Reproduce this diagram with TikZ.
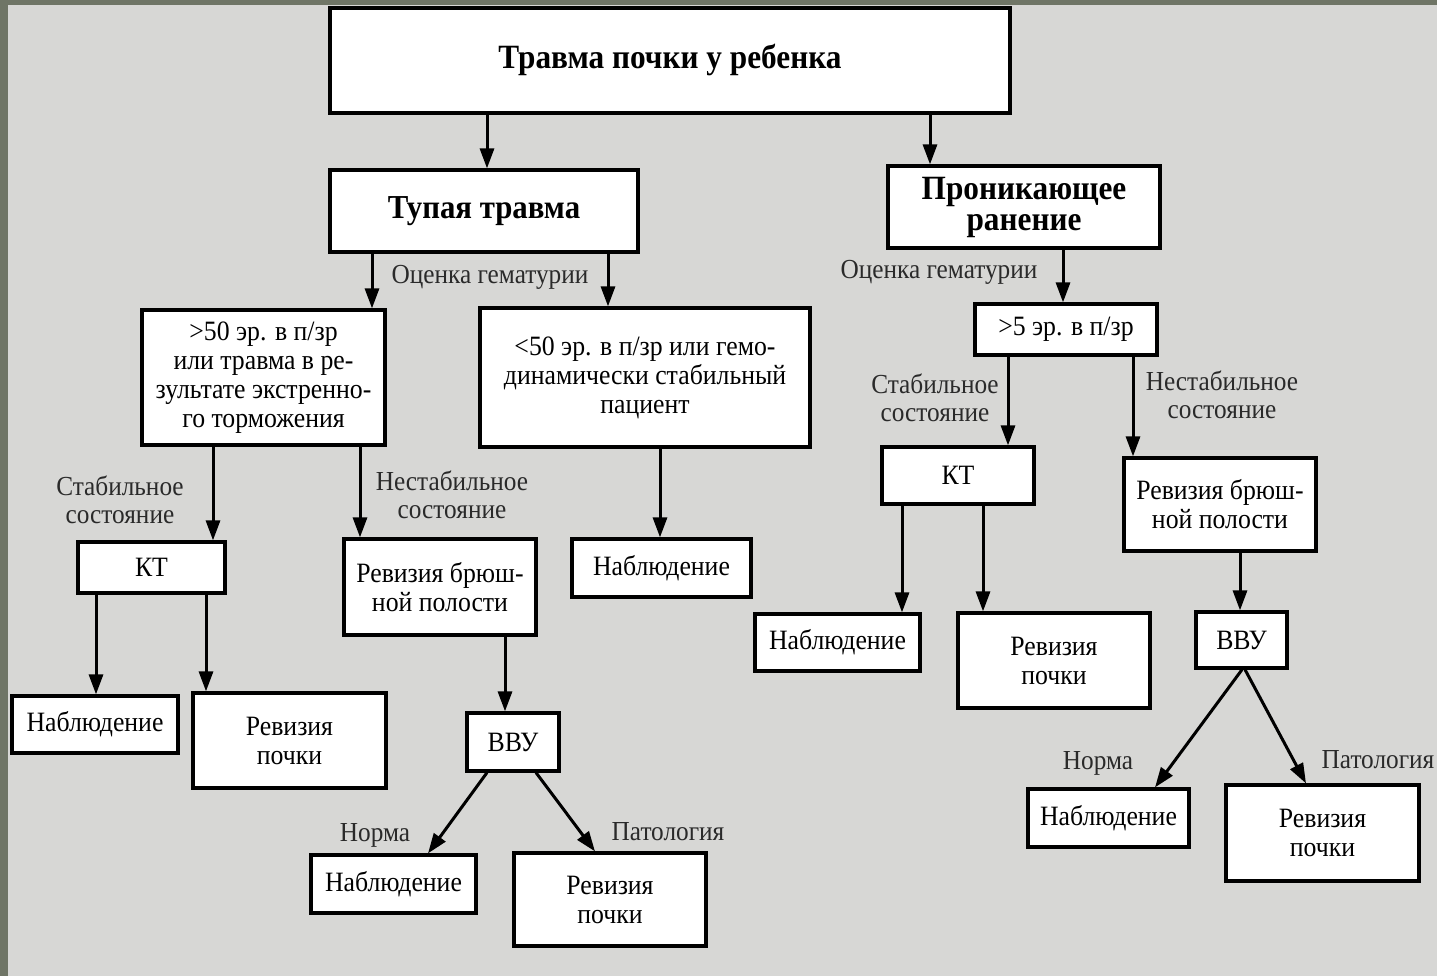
\documentclass[tikz,border=0pt]{standalone}
\usepackage{fontspec}
\setmainfont{Liberation Serif}[FakeStretch=0.92]
\usetikzlibrary{arrows.meta}
\definecolor{framecol}{HTML}{6F7566}
\definecolor{bgcol}{HTML}{D7D7D5}
\definecolor{labcol}{HTML}{2A2A2A}
\tikzset{
  box/.style={draw=black, line width=3.2pt, fill=white, inner sep=0pt, align=center,
    font=\fontsize{28}{29}\selectfont},
  bigbox/.style={box, font=\bfseries\fontsize{34}{31}\selectfont},
  arr/.style={line width=3pt, -{Triangle[length=20pt,width=14pt]}},
  lab/.style={font=\fontsize{27.5}{28}\selectfont, align=center, text=labcol, inner sep=0pt}
}
\begin{document}
\begin{tikzpicture}[x=1pt,y=-1pt]
\useasboundingbox (0,0) rectangle (1437,976);
\fill[framecol] (0,0) rectangle (1437,976);
\fill[bgcol] (8,5) rectangle (1437,976);

% top level
\node[bigbox, minimum width=680pt, minimum height=105pt] (title) at (670,60.5) {Травма почки у ребенка};
\node[bigbox, minimum width=308pt, minimum height=82pt, font=\bfseries\fontsize{33.5}{34}\selectfont] (tupaya) at (484,211) {Тупая травма};
\node[bigbox, minimum width=272pt, minimum height=82pt] (pron) at (1024,207) {Проникающее\\ранение};

% second level
\node[box, minimum width=243pt, minimum height=135pt] (gt50) at (263.5,377.5) {>50 эр. в п/зр\\или травма в ре-\\зультате экстренно-\\го торможения};
\node[box, minimum width=330pt, minimum height=139pt] (lt50) at (645,377.5) {<50 эр. в п/зр или гемо-\\динамически стабильный\\пациент};
\node[box, minimum width=182pt, minimum height=51pt] (gt5) at (1066,329.5) {>5 эр. в п/зр};

% right branch
\node[box, minimum width=152pt, minimum height=57pt] (ktR) at (958,475.5) {КТ};
\node[box, minimum width=192pt, minimum height=93pt] (revbR) at (1220,504.5) {Ревизия брюш-\\ной полости};
\node[box, minimum width=165pt, minimum height=57pt] (nabR1) at (837.5,642.5) {Наблюдение};
\node[box, minimum width=192pt, minimum height=95pt] (revpR1) at (1054,660.5) {Ревизия\\почки};
\node[box, minimum width=91pt, minimum height=56pt] (vvuR) at (1241.5,640) {ВВУ};
\node[box, minimum width=161pt, minimum height=58pt] (nabR2) at (1108.5,818) {Наблюдение};
\node[box, minimum width=193pt, minimum height=96pt] (revpR2) at (1322.5,833) {Ревизия\\почки};

% left branch
\node[box, minimum width=147pt, minimum height=51pt] (ktL) at (151.5,567.5) {КТ};
\node[box, minimum width=192pt, minimum height=96pt] (revbL) at (440,587) {Ревизия брюш-\\ной полости};
\node[box, minimum width=179pt, minimum height=58pt] (nabM) at (661.5,568) {Наблюдение};
\node[box, minimum width=166pt, minimum height=57pt] (nabL) at (95,724.5) {Наблюдение};
\node[box, minimum width=193pt, minimum height=95pt] (revpL) at (289.5,740.5) {Ревизия\\почки};
\node[box, minimum width=92pt, minimum height=58pt] (vvuL) at (513,742) {ВВУ};
\node[box, minimum width=165pt, minimum height=58pt] (nabL2) at (393.5,884) {Наблюдение};
\node[box, minimum width=192pt, minimum height=93pt] (revpL2) at (610,899.5) {Ревизия\\почки};

% labels
\node[lab] (oc1) at (490,277) {Оценка гематурии};
\node[lab] (oc2) at (939,272) {Оценка гематурии};
\node[lab] (stL) at (120,500) {Стабильное\\состояние};
\node[lab] (nstL) at (452,495) {Нестабильное\\состояние};
\node[lab] (stR) at (935,398) {Стабильное\\состояние};
\node[lab] (nstR) at (1222,395) {Нестабильное\\состояние};
\node[lab] (normL) at (375,835) {Норма};
\node[lab] (patL) at (668,832) {Патология};
\node[lab] (normR) at (1098,763) {Норма};
\node[lab] (patR) at (1378,760) {Патология};

% arrows
\draw[arr] (487,0 |- title.south) -- (487,0 |- tupaya.north);
\draw[arr] (930,0 |- title.south) -- (930,0 |- pron.north);
\draw[arr] (372,0 |- tupaya.south) -- (372,0 |- gt50.north);
\draw[arr] (608,0 |- tupaya.south) -- (608,0 |- lt50.north);
\draw[arr] (1063,0 |- pron.south) -- (1063,0 |- gt5.north);
\draw[arr] (1008,0 |- gt5.south) -- (1008,0 |- ktR.north);
\draw[arr] (1133,0 |- gt5.south) -- (1133,0 |- revbR.north);
\draw[arr] (902,0 |- ktR.south) -- (902,0 |- nabR1.north);
\draw[arr] (983,0 |- ktR.south) -- (983,0 |- revpR1.north);
\draw[arr] (1240,0 |- revbR.south) -- (1240,0 |- vvuR.north);
\draw[arr] (1242,0 |- vvuR.south) -- (1155,0 |- nabR2.north);
\draw[arr] (1245,0 |- vvuR.south) -- (1306,0 |- revpR2.north);
\draw[arr] (213,0 |- gt50.south) -- (213,0 |- ktL.north);
\draw[arr] (360,0 |- gt50.south) -- (360,0 |- revbL.north);
\draw[arr] (660,0 |- lt50.south) -- (660,0 |- nabM.north);
\draw[arr] (96,0 |- ktL.south) -- (96,0 |- nabL.north);
\draw[arr] (206,0 |- ktL.south) -- (206,0 |- revpL.north);
\draw[arr] (505,0 |- revbL.south) -- (505,0 |- vvuL.north);
\draw[arr] (487,0 |- vvuL.south) -- (428,0 |- nabL2.north);
\draw[arr] (536,0 |- vvuL.south) -- (595,0 |- revpL2.north);
\end{tikzpicture}
\end{document}
